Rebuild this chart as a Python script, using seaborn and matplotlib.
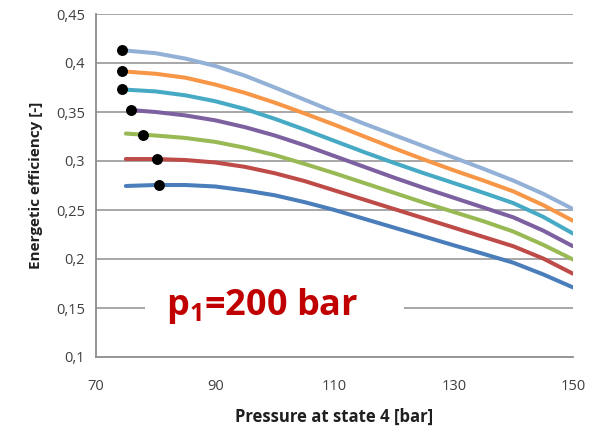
import numpy as np
import pandas as pd
import matplotlib
matplotlib.use("Agg")
import matplotlib.pyplot as plt
from matplotlib.patches import Rectangle
import seaborn as sns

# ---------------- data ----------------
series_names = ["c1", "c2", "c3", "c4", "c5", "c6", "c7"]  # bottom -> top
colors = ["#4A7EBB", "#BE4B48", "#98B954", "#7D60A0", "#46AAC5", "#F79646", "#93B1D6"]

grid_p = [80, 85, 90, 95, 100, 105, 110, 115, 120, 125, 130, 135, 140, 145, 150]
start_p = [75.0, 75.0, 75.0, 75.8, 74.4, 74.4, 74.4]
start_v = [0.2745, 0.302, 0.328, 0.352, 0.373, 0.3915, 0.413]

eff_c1 = [0.2755, 0.2755, 0.274, 0.270, 0.265, 0.258, 0.250, 0.241, 0.232, 0.223, 0.214, 0.2052, 0.1962, 0.1843, 0.171]
eff_c2 = [0.302, 0.301, 0.2985, 0.294, 0.2875, 0.2795, 0.270, 0.2605, 0.251, 0.2415, 0.232, 0.2225, 0.213, 0.2005, 0.185]
eff_c3 = [0.326, 0.3235, 0.3195, 0.3135, 0.306, 0.297, 0.2875, 0.2775, 0.2675, 0.2575, 0.248, 0.2385, 0.228, 0.2145, 0.1995]
eff_c4 = [0.350, 0.3465, 0.3415, 0.3345, 0.326, 0.316, 0.305, 0.294, 0.283, 0.2725, 0.2625, 0.2525, 0.2425, 0.229, 0.213]
eff_c5 = [0.371, 0.367, 0.361, 0.353, 0.343, 0.332, 0.3205, 0.309, 0.298, 0.2875, 0.2775, 0.2675, 0.257, 0.243, 0.226]
eff_c6 = [0.389, 0.385, 0.378, 0.3695, 0.3595, 0.3485, 0.337, 0.325, 0.313, 0.3015, 0.2905, 0.280, 0.269, 0.255, 0.239]
eff_c7 = [0.410, 0.4045, 0.397, 0.387, 0.375, 0.3625, 0.350, 0.338, 0.3265, 0.315, 0.3035, 0.292, 0.280, 0.2665, 0.251]
all_eff = [eff_c1, eff_c2, eff_c3, eff_c4, eff_c5, eff_c6, eff_c7]

# black marked points
dot_p = [80.5, 80.2, 77.8, 75.8, 74.4, 74.4, 74.4]
dot_v = [0.2755, 0.302, 0.3265, 0.352, 0.373, 0.3915, 0.413]

x_ticks = [70, 90, 110, 130, 150]
y_ticks = [0.10, 0.15, 0.20, 0.25, 0.30, 0.35, 0.40, 0.45]
y_tick_labels = ["0,1", "0,15", "0,2", "0,25", "0,3", "0,35", "0,4", "0,45"]

# ---------------- build table ----------------
rows = []
for name, sp, sv, vals in zip(series_names, start_p, start_v, all_eff):
    rows.append((name, sp, sv))
    for p, v in zip(grid_p, vals):
        rows.append((name, p, v))
df = pd.DataFrame(rows, columns=["series", "pressure", "eff"])
dots = pd.DataFrame({"pressure": dot_p, "eff": dot_v})

# ---------------- plot ----------------
sns.set_theme(style="white")
plt.rcParams["font.family"] = ["Open Sans", "DejaVu Sans"]
plt.rcParams["mathtext.fontset"] = "custom"
plt.rcParams["mathtext.rm"] = "Open Sans:bold"
plt.rcParams["mathtext.bf"] = "Open Sans:bold"

fig = plt.figure(figsize=(5.91, 4.33), dpi=100)
ax = fig.add_axes([96 / 591, 1 - 357 / 433, (573 - 96) / 591, (357 - 14) / 433])

for yt in y_ticks[1:]:
    ax.axhline(yt, color="#A0A0A0", lw=1.3, zorder=1)

sns.lineplot(data=df, x="pressure", y="eff", hue="series", hue_order=series_names,
             palette=colors, estimator=None, sort=True, lw=2.9, legend=False,
             ax=ax, zorder=3)
for ln in ax.get_lines():
    ln.set_solid_capstyle("round")
    ln.set_solid_joinstyle("round")
sns.scatterplot(data=dots, x="pressure", y="eff", color="black", s=62,
                edgecolor="black", linewidth=0, ax=ax, zorder=5, legend=False)

ax.set_xlim(70, 150)
ax.set_ylim(0.10, 0.45)
ax.set_xticks(x_ticks)
ax.set_yticks(y_ticks)
ax.set_yticklabels(y_tick_labels)
for s in ["top", "right"]:
    ax.spines[s].set_visible(False)
for s in ["left", "bottom"]:
    ax.spines[s].set_color("#8C8C8C")
    ax.spines[s].set_linewidth(1.3)
ax.tick_params(axis="x", direction="in", length=5, width=1.2, color="#8C8C8C",
               labelsize=10.5, labelcolor="#404040", pad=16)
ax.tick_params(axis="y", length=0, labelsize=10.5, labelcolor="#404040", pad=8)

ax.set_xlabel("Pressure at state 4 [bar]", fontsize=12, fontweight="bold",
              color="#1F1F1F", labelpad=10)
ax.set_ylabel("Energetic efficiency [-]", fontsize=11, fontweight="bold",
              color="#1F1F1F", labelpad=9)

# white box behind the annotation
ax.add_patch(Rectangle((78.2, 0.128), 43.5, 0.045, facecolor="white",
                       edgecolor="none", zorder=2))
ax.text(81.7, 0.152, r"p$_{1}$=200 bar", fontsize=26, fontweight="bold",
        color="#C00000", ha="left", va="center", zorder=6)

fig.savefig("out.png", dpi=100)
